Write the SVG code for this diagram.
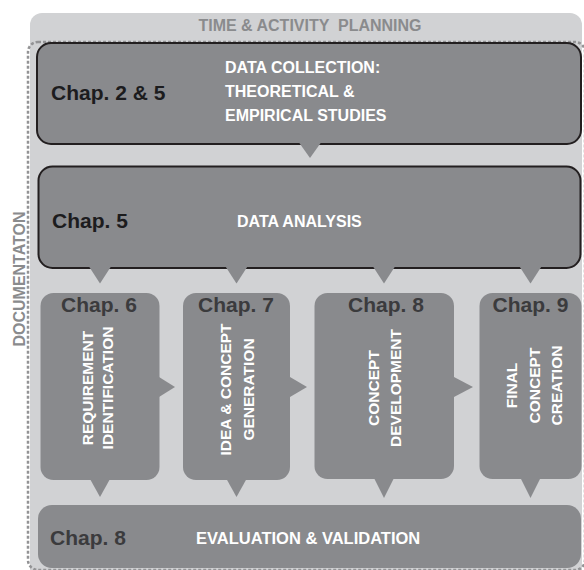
<svg xmlns="http://www.w3.org/2000/svg" width="584" height="570" viewBox="0 0 584 570">
  <style>
    .bold { font-family: "Liberation Sans", Arial, sans-serif; font-weight: bold; }
    .box { fill: #898a8d; }
    .outlined { stroke: #231f20; stroke-width: 2; }
    .chap { font-size: 21px; fill: #1c1c1e; }
    .chapdim { font-size: 21px; fill: #3b3b3d; }
    .label { font-size: 16px; fill: #ffffff; }
    .vlabel { font-size: 15.5px; fill: #ffffff; text-anchor: middle; }
    .frame { font-size: 16px; fill: #8a8b8d; }
    .pointer { fill: #898a8d; }
  </style>

  <!-- planning frame -->
  <rect x="30" y="13" width="552" height="570" rx="12" fill="#d1d2d4"/>
  <rect x="28" y="42" width="557" height="528" rx="10" fill="none" stroke="#939395" stroke-width="2.5" stroke-dasharray="3 2"/>
  <text class="bold frame" x="310" y="31" text-anchor="middle" xml:space="preserve">TIME &amp; ACTIVITY  PLANNING</text>
  <text class="bold frame" transform="translate(25,279) rotate(-90)" text-anchor="middle">DOCUMENTATON</text>

  <!-- data collection -->
  <g id="data-collection">
    <rect class="box outlined" x="37" y="43" width="544" height="101" rx="14"/>
    <text class="bold chap" x="51" y="100">Chap. 2 &amp; 5</text>
    <text class="bold label" x="225" y="72.5">DATA COLLECTION:</text>
    <text class="bold label" x="225" y="96.5">THEORETICAL &amp;</text>
    <text class="bold label" x="225" y="120.5">EMPIRICAL STUDIES</text>
  </g>

  <!-- data analysis -->
  <g id="data-analysis">
    <rect class="box outlined" x="38.5" y="166.5" width="542" height="101.5" rx="14"/>
    <text class="bold chap" x="52" y="228">Chap. 5</text>
    <text class="bold label" x="237" y="227">DATA ANALYSIS</text>
  </g>

  <!-- phase columns -->
  <g id="requirement-identification">
    <rect class="box" x="40.5" y="293" width="119" height="187" rx="13"/>
    <text class="bold chapdim" x="99" y="312" text-anchor="middle">Chap. 6</text>
    <text class="bold vlabel" transform="translate(92.5,388) rotate(-90)">REQUIREMENT</text>
    <text class="bold vlabel" transform="translate(113,388) rotate(-90)">IDENTIFICATION</text>
  </g>

  <g id="idea-concept-generation">
    <rect class="box" x="183" y="293" width="107" height="187" rx="13"/>
    <text class="bold chapdim" x="236" y="312" text-anchor="middle">Chap. 7</text>
    <text class="bold vlabel" transform="translate(230.5,389.5) rotate(-90)">IDEA &amp; CONCEPT</text>
    <text class="bold vlabel" transform="translate(254,389.5) rotate(-90)">GENERATION</text>
  </g>

  <g id="concept-development">
    <rect class="box" x="314.5" y="293" width="139.5" height="186" rx="13"/>
    <text class="bold chapdim" x="386" y="312" text-anchor="middle">Chap. 8</text>
    <text class="bold vlabel" transform="translate(378.5,388) rotate(-90)">CONCEPT</text>
    <text class="bold vlabel" transform="translate(400.5,388) rotate(-90)">DEVELOPMENT</text>
  </g>

  <g id="final-concept-creation">
    <rect class="box" x="479.5" y="293" width="102" height="186" rx="13"/>
    <text class="bold chapdim" x="530.5" y="312" text-anchor="middle">Chap. 9</text>
    <text class="bold vlabel" transform="translate(516.5,385.5) rotate(-90)">FINAL</text>
    <text class="bold vlabel" transform="translate(540,385.5) rotate(-90)">CONCEPT</text>
    <text class="bold vlabel" transform="translate(561.5,385.5) rotate(-90)">CREATION</text>
  </g>

  <!-- evaluation -->
  <g id="evaluation-validation">
    <rect class="box" x="38" y="505" width="543" height="63" rx="14"/>
    <text class="bold chapdim" x="50" y="545">Chap. 8</text>
    <text class="bold label" x="196" y="544" style="font-size:16.5px">EVALUATION &amp; VALIDATION</text>
  </g>

  <!-- pointers between stages -->
  <g id="connectors">
    <polygon class="pointer" points="299,142.5 321,142.5 310,158"/>

    <polygon class="pointer" points="89,266.5 111,266.5 100,283.5"/>
    <polygon class="pointer" points="225.5,266.5 247.5,266.5 236.5,283.5"/>
    <polygon class="pointer" points="373,266.5 395,266.5 384,283.5"/>
    <polygon class="pointer" points="519.5,266.5 541.5,266.5 530.5,283.5"/>

    <polygon class="pointer" points="159,377 159,397 175,387"/>
    <polygon class="pointer" points="290,377 290,397 307,387"/>
    <polygon class="pointer" points="454,377 454,397 473,387"/>

    <polygon class="pointer" points="90,479 110,479 100,497"/>
    <polygon class="pointer" points="226.5,479 246.5,479 236.5,497"/>
    <polygon class="pointer" points="374,478 394,478 384,498"/>
    <polygon class="pointer" points="520.5,478 540.5,478 530.5,498"/>
  </g>
</svg>
